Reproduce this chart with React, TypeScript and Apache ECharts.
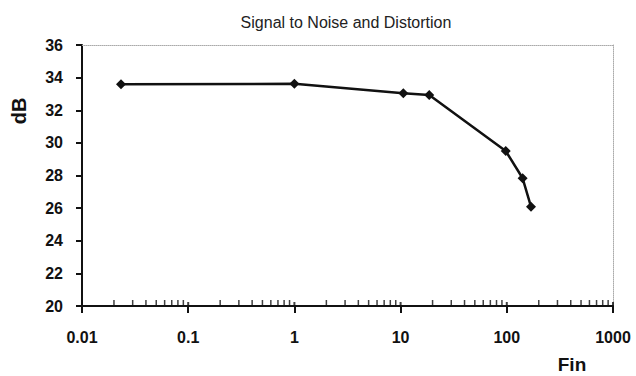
import React, { useEffect, useRef } from "react";
import * as echarts from "echarts";

const finValues = [0.0233, 1.0, 10.6, 18.6, 97.7, 141, 169];
const dbValues = [33.6, 33.62, 33.04, 32.94, 29.5, 27.83, 26.09];
const decades = [0.01, 0.1, 1, 10, 100];
const minorMultipliers = [2, 3, 4, 5, 6, 7, 8, 9];
const yTicks = { min: 20, max: 36, interval: 2 };
const xRange = { min: 0.01, max: 1000 };

export default function App() {
  const ref = useRef<HTMLDivElement>(null);
  useEffect(() => {
    if (!ref.current) return;
    const chart = echarts.init(ref.current, undefined, { renderer: "svg" });
    const minorTicks: number[][] = [];
    decades.forEach((d) => minorMultipliers.forEach((m) => minorTicks.push([d * m, yTicks.min])));
    const majorTicks = [...decades, xRange.max].map((d) => [d, yTicks.min]);
    const font = "Arial, Liberation Sans, sans-serif";
    const bold = { fontFamily: font, fontWeight: "bold" as const, color: "#111" };
    chart.setOption({
      animation: false,
      backgroundColor: "#fff",
      title: {
        text: "Signal to Noise and Distortion",
        left: 341,
        top: 9,
        textAlign: "center",
        textStyle: { fontFamily: font, fontWeight: "normal", fontSize: 16, color: "#222" },
      },
      grid: { left: 82, right: 23, top: 45, bottom: 70 },
      xAxis: [
        {
          type: "log",
          logBase: 10,
          min: xRange.min,
          max: xRange.max,
          axisLine: { lineStyle: { color: "#111", width: 2 } },
          axisTick: { length: 7, lineStyle: { color: "#111", width: 2 } },
          axisLabel: { ...bold, fontSize: 16, margin: 23, formatter: (v: number) => String(v) },
          splitLine: { show: false },
        },
        {
          type: "log",
          logBase: 10,
          position: "top",
          min: xRange.min,
          max: xRange.max,
          axisLine: { lineStyle: { color: "#aaa", width: 1, type: "dotted" } },
          axisTick: { show: false },
          axisLabel: { show: false },
          splitLine: { show: false },
        },
      ],
      yAxis: [
        {
          type: "value",
          min: yTicks.min,
          max: yTicks.max,
          interval: yTicks.interval,
          axisLine: { show: true, lineStyle: { color: "#111", width: 2 } },
          axisTick: { show: true, length: 6, lineStyle: { color: "#111", width: 2 } },
          axisLabel: { ...bold, fontSize: 16, margin: 19 },
          splitLine: { show: false },
        },
        {
          type: "value",
          position: "right",
          min: yTicks.min,
          max: yTicks.max,
          interval: yTicks.interval,
          axisLine: { show: true, lineStyle: { color: "#aaa", width: 1, type: "dotted" } },
          axisTick: { show: false },
          axisLabel: { show: false },
          splitLine: { show: false },
        },
      ],
      graphic: [
        {
          type: "text",
          x: 572,
          y: 364,
          style: {
            text: "Fin",
            fontFamily: font,
            fontWeight: "bold",
            fontSize: 19,
            fill: "#111",
            align: "center",
            verticalAlign: "middle",
          },
        },
        {
          type: "text",
          x: 19,
          y: 111,
          rotation: Math.PI / 2,
          style: {
            text: "dB",
            fontFamily: font,
            fontWeight: "bold",
            fontSize: 20,
            fill: "#111",
            align: "center",
            verticalAlign: "middle",
          },
        },
      ],
      series: [
        {
          type: "scatter",
          data: minorTicks,
          symbol: "rect",
          symbolSize: [1.5, 6],
          symbolOffset: [0, -3],
          itemStyle: { color: "#111" },
          silent: true,
          clip: false,
          z: 1,
        },
        {
          type: "scatter",
          data: majorTicks,
          symbol: "rect",
          symbolSize: [2, 4],
          symbolOffset: [0, -2],
          itemStyle: { color: "#111" },
          silent: true,
          clip: false,
          z: 1,
        },
        {
          type: "line",
          data: finValues.map((f, i) => [f, dbValues[i]]),
          symbol: "diamond",
          symbolSize: 10,
          lineStyle: { color: "#111", width: 2.5 },
          itemStyle: { color: "#111" },
          z: 3,
        },
      ],
    });
    return () => chart.dispose();
  }, []);
  return (
    <div
      ref={ref}
      style={{ position: "fixed", left: 0, top: 0, width: 636, height: 376, background: "#fff" }}
    />
  );
}
